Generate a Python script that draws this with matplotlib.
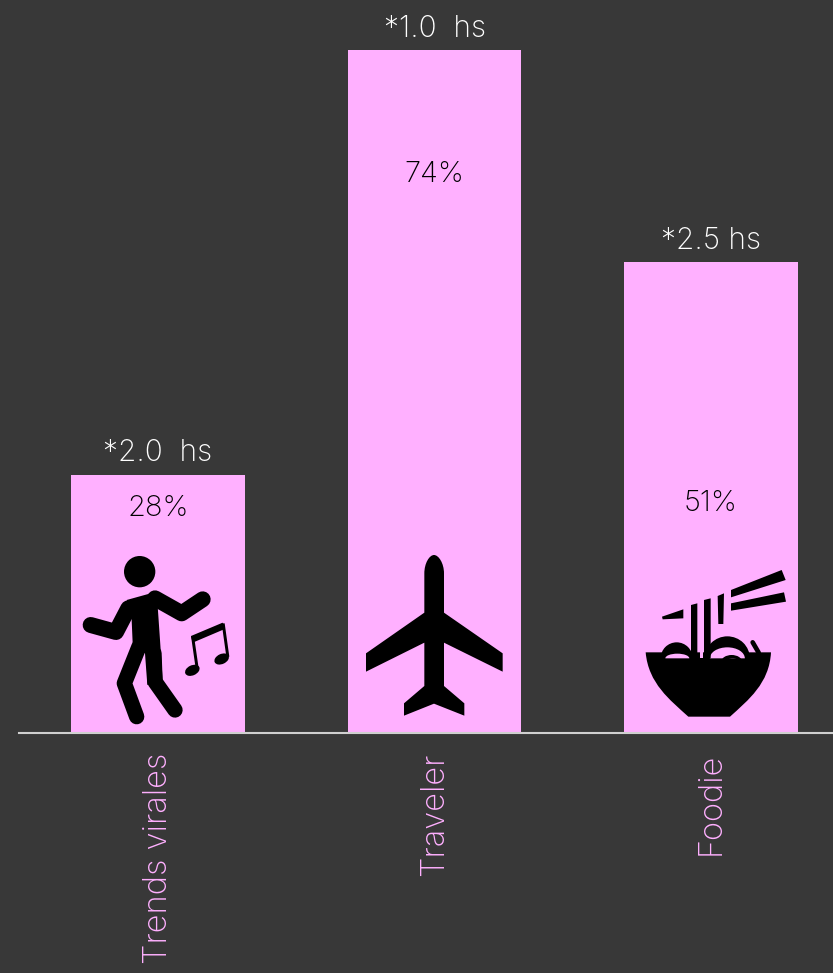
# libraries
import matplotlib
matplotlib.use("Agg")
import matplotlib.pyplot as plt
from matplotlib.patches import Ellipse, PathPatch, Polygon
from matplotlib.path import Path
from matplotlib.transforms import Affine2D

# data
categories = ['Trends virales', 'Traveler', 'Foodie']
percents = [28, 74, 51]
percent_labels = ['28%', '74%', '51%']
hours_labels = ['*2.0  hs', '*1.0  hs', '*2.5 hs']

# colours
bg = '#383838'
pink = '#FFB0FF'
black = '#000000'

W, H = 833, 973
fig = plt.figure(figsize=(W / 100, H / 100), dpi=100, facecolor=bg)
ax = fig.add_axes([19 / W, (H - 733) / H, (W - 19) / W, 733 / H], facecolor=bg)

font = 'Inter'

# bars
r = list(range(len(categories)))
ax.bar(r, percents, width=0.629, color=pink, linewidth=0)
ax.set_xlim(-0.5027, 2.441)
ax.set_ylim(0, 79.42)

# general layout
for s in ['top', 'left', 'right']:
    ax.spines[s].set_visible(False)
ax.spines['bottom'].set_color('#d0d0d0')
ax.spines['bottom'].set_linewidth(1.5)
ax.set_yticks([])
ax.set_xticks(r)
ax.set_xticklabels(categories, rotation=90, fontsize=23.5, color=pink, family=font, weight='light', va='top')
ax.tick_params(axis='x', length=0, pad=14)

# labels on the bars, offsets in px from the bar top
pct_offset = [34, 124, 241]
for i in r:
    ax.annotate(hours_labels[i], xy=(i, percents[i]), xytext=(0, 21.5 * 0.72), textcoords='offset points',
                ha='center', va='center', color='white', fontsize=21.5, family=font, weight='light')
    ax.annotate(percent_labels[i], xy=(i, percents[i]), xytext=(0, -pct_offset[i] * 0.72), textcoords='offset points',
                ha='center', va='center', color=black, fontsize=21, family=font, weight='light')


# icons are traced in reference pixels
def to_fig(ox, oy):
    # zoomed crop coords (3x) -> figure
    return (Affine2D().scale(1 / 3).translate(ox, oy).scale(1 / W, -1 / H).translate(0, 1) + fig.transFigure)


def poly(points, tr, color=black):
    fig.add_artist(Polygon(points, closed=True, facecolor=color, edgecolor='none', transform=tr))


def oval(x, y, w, h, tr, angle=0, color=black):
    fig.add_artist(Ellipse((x, y), w, h, angle=angle, facecolor=color, edgecolor='none', transform=tr))


def stroke(points, w, tr, color=black):
    xs = [p[0] for p in points]
    ys = [p[1] for p in points]
    line = plt.Line2D(xs, ys, color=color, linewidth=w / 3 * 0.72, solid_capstyle='round',
                      solid_joinstyle='round', transform=tr)
    fig.add_artist(line)


# dancer
tr = to_fig(60, 540)
oval(239, 95, 94, 94, tr)
poly([(200, 180), (290, 155), (300, 300), (308, 420), (262, 435), (255, 340), (218, 310), (215, 240)], tr)
stroke([(92, 255), (168, 276), (205, 205)], 48, tr)
stroke([(285, 175), (365, 220), (428, 178)], 48, tr)
stroke([(237, 320), (193, 430), (230, 530)], 46, tr)
stroke([(282, 340), (285, 425), (345, 510)], 46, tr)
# music note
poly([(393, 288), (488, 248), (492, 268), (398, 308)], tr)
poly([(393, 288), (402, 288), (416, 385), (407, 385)], tr)
poly([(485, 250), (494, 250), (508, 350), (499, 350)], tr)
oval(397, 391, 46, 30, tr, angle=-25)
oval(485, 357, 46, 30, tr, angle=-25)

# plane
tr = to_fig(340, 540)
verts = [(253, 100), (253, 70), (268, 45), (282, 45), (296, 45), (312, 70), (312, 100),
         (312, 218), (488, 340), (488, 395), (312, 308), (312, 438), (373, 490), (373, 527),
         (282, 491), (192, 527), (192, 490), (253, 438), (253, 308), (78, 395), (78, 340),
         (253, 218), (253, 100)]
codes = [Path.MOVETO, Path.CURVE4, Path.CURVE4, Path.CURVE4, Path.CURVE4, Path.CURVE4, Path.CURVE4] + [Path.LINETO] * 15 + [Path.CLOSEPOLY]
fig.add_artist(PathPatch(Path(verts, codes), facecolor=black, edgecolor='none', transform=tr))

# noodle bowl
tr = to_fig(620, 550)
verts = [(77, 307), (453, 307), (448, 400), (385, 450), (330, 500), (205, 500), (150, 450), (85, 400), (77, 307), (77, 307)]
codes = [Path.MOVETO, Path.LINETO, Path.CURVE4, Path.CURVE4, Path.CURVE4, Path.LINETO, Path.CURVE4, Path.CURVE4, Path.CURVE4, Path.CLOSEPOLY]
fig.add_artist(PathPatch(Path(verts, codes), facecolor=black, edgecolor='none', transform=tr))
# noodle loops, black then pink inside
oval(170, 325, 96, 96, tr)
oval(322, 325, 135, 132, tr)
oval(172, 325, 72, 28, tr, color=pink)
oval(322, 325, 105, 66, tr, color=pink)
oval(335, 335, 62, 40, tr)
oval(338, 335, 36, 20, tr, color=pink)
stroke([(398, 277), (416, 308)], 14, tr)
poly([(240, 300), (250, 300), (250, 325), (240, 325)], tr, color=pink)
poly([(95, 325), (440, 325), (435, 360), (95, 360)], tr)
# sticks and the straight noodles
poly([(333, 120), (485, 60), (497, 90), (333, 142)], tr)
poly([(333, 160), (492, 127), (498, 155), (333, 182)], tr)
poly([(126, 200), (190, 178), (190, 205), (128, 208)], tr)
poly([(213, 165), (232, 160), (232, 325), (213, 325)], tr)
poly([(252, 150), (272, 145), (272, 325), (252, 325)], tr)
poly([(293, 138), (312, 130), (310, 222), (295, 222)], tr)

fig.savefig('out.png', dpi=100, facecolor=bg)
